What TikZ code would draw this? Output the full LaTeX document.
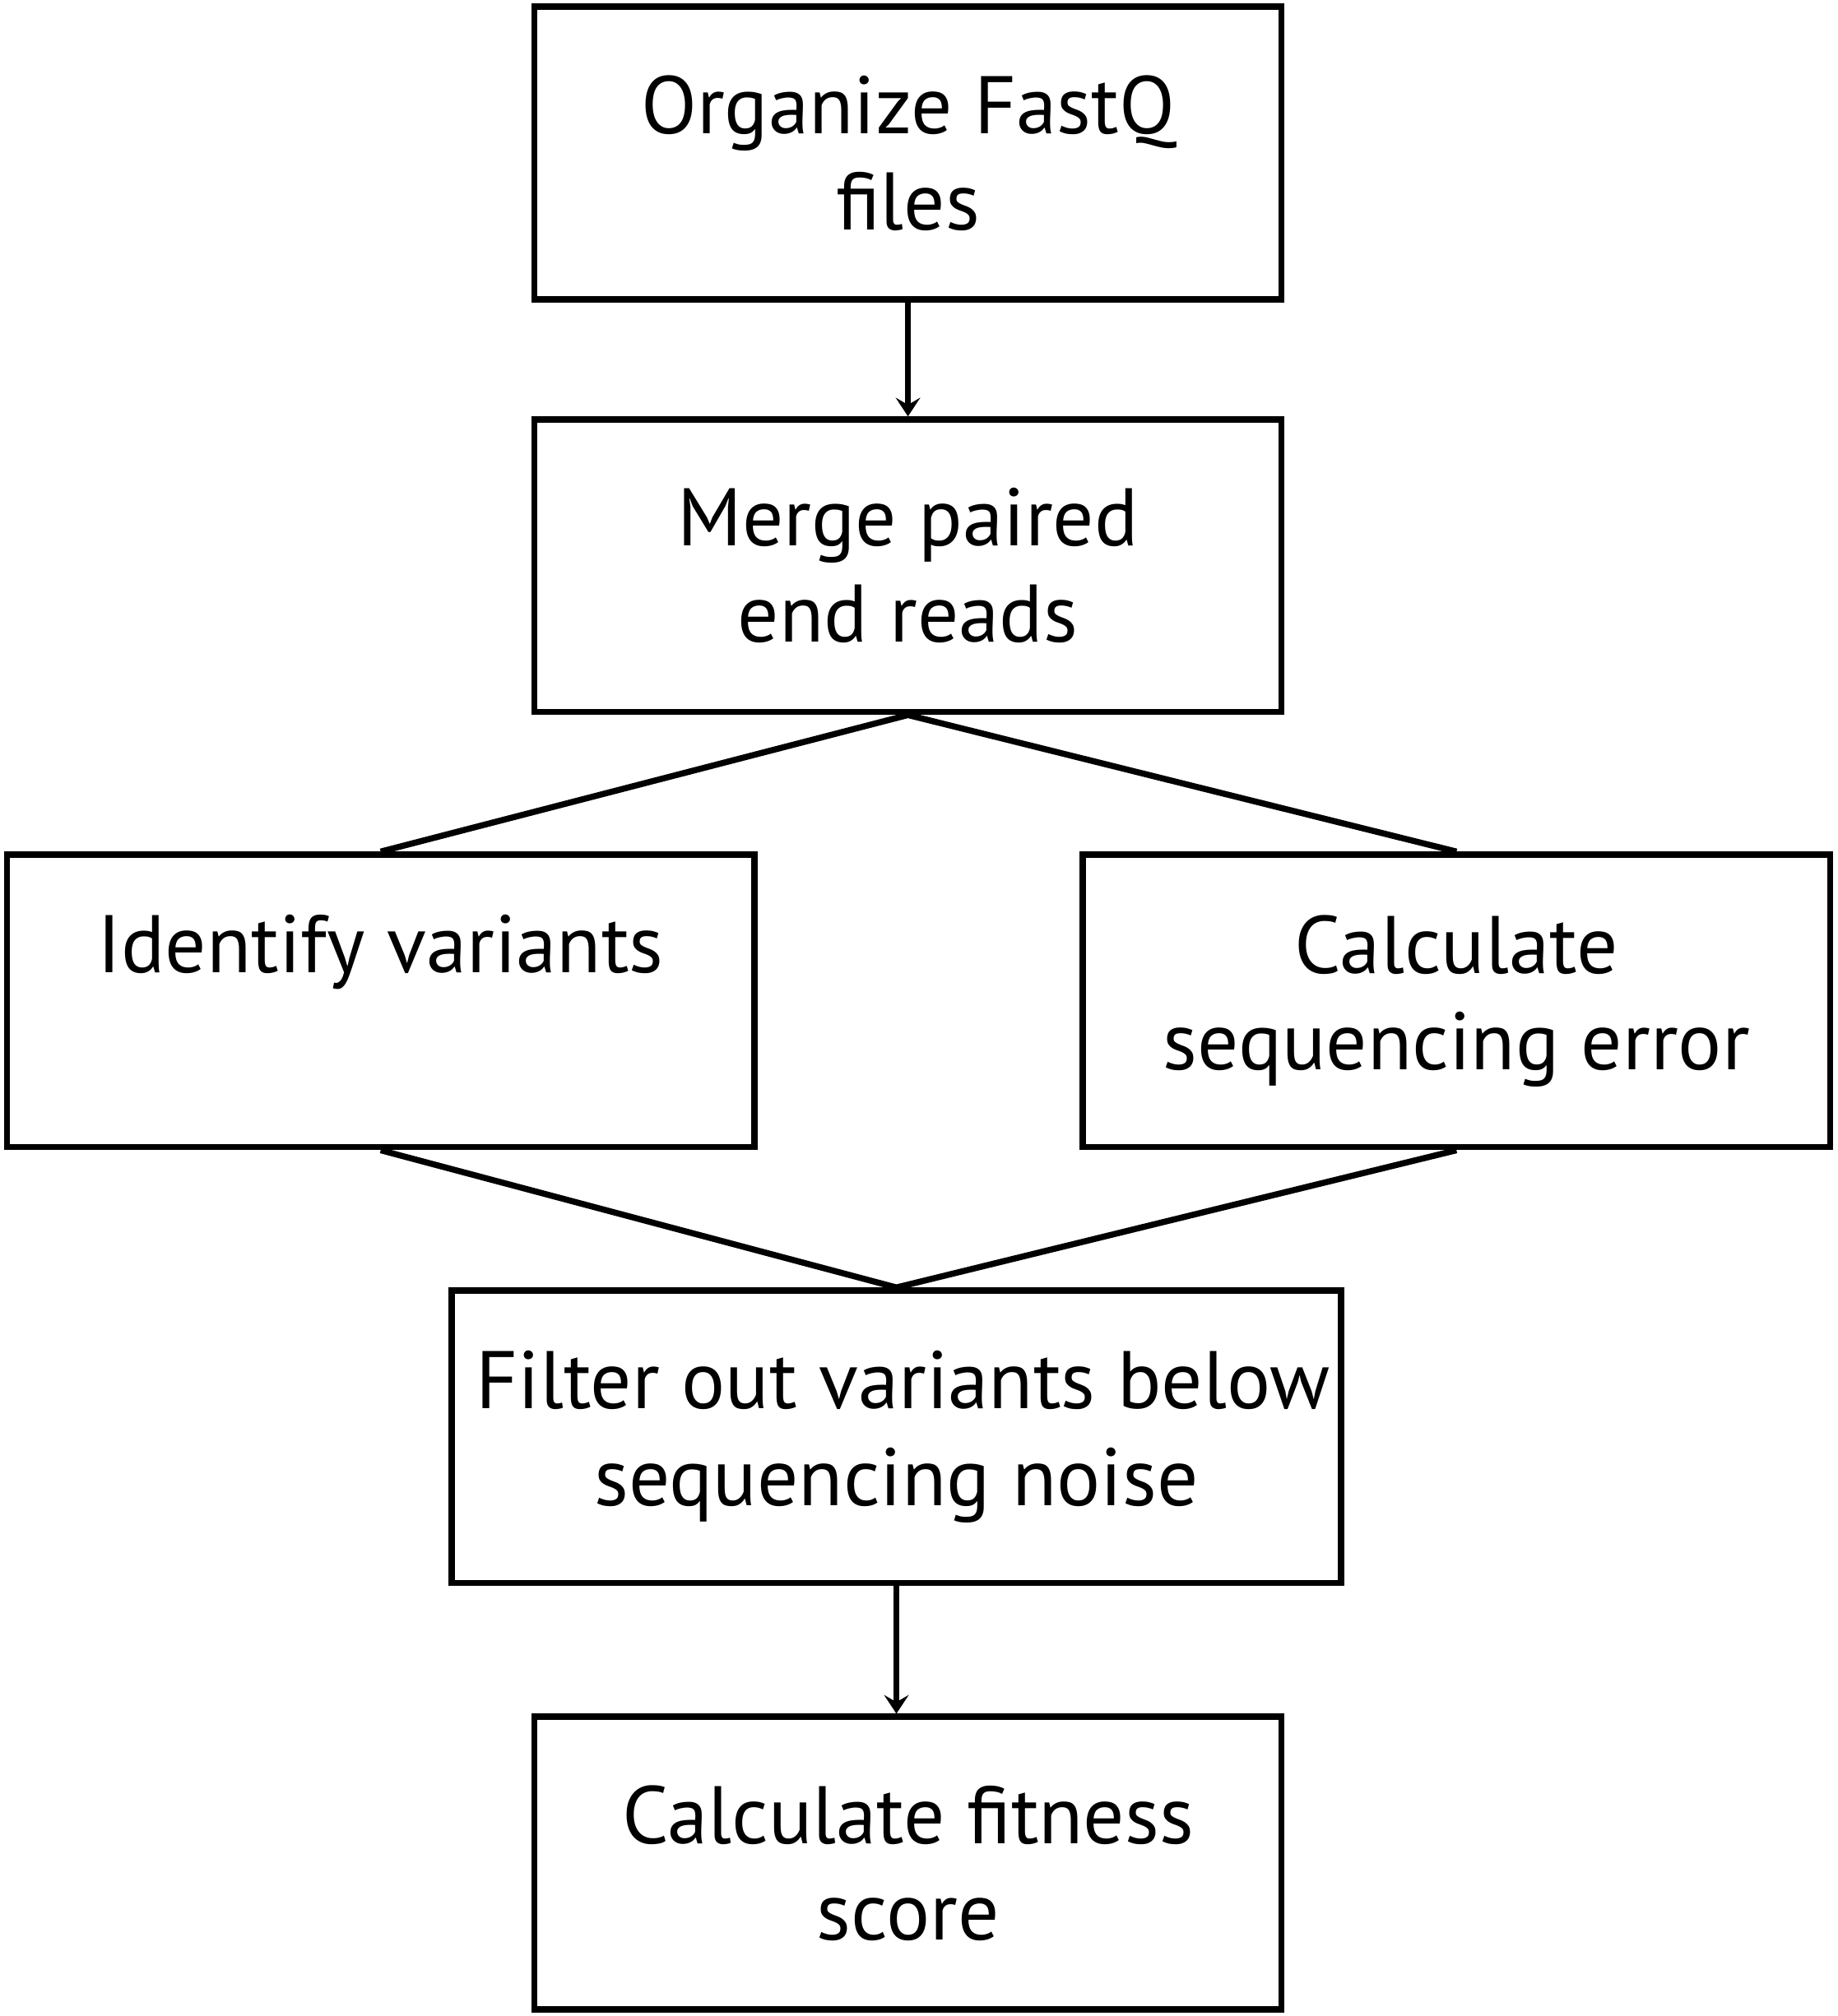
\documentclass[tikz,border=0pt]{standalone}
\usepackage{fontspec}
\setmainfont{PT Sans}
\usetikzlibrary{arrows.meta,positioning}

\begin{document}
\begin{tikzpicture}[x=0.2pt, y=-0.2pt, line join=miter]
    \useasboundingbox (0,0) rectangle (1429,1568);

    \tikzset{
        stepbox/.style={draw, line width=0.95pt, minimum width=#1, minimum height=45.5pt,
            align=center, inner sep=0pt, font=\fontsize{12.7}{15}\selectfont},
        stepbox/.default=116.2pt,
        arr/.style={-{Stealth[length=2.9pt, width=3.8pt, inset=1.1pt]}, line width=0.95pt},
        link/.style={line width=0.95pt}
    }

    \node[stepbox] (organize) at (706,119)    {Organize FastQ\\files};
    \node[stepbox] (merge)    at (706,440)    {Merge paired\\end reads};
    \node[stepbox] (identify) at (296,778.5)  {Identify variants\\\phantom{Xg}};
    \node[stepbox] (seqerror) at (1132.5,778.5) {Calculate\\sequencing error};
    \node[stepbox=138.3pt] (filter) at (697,1117.5) {\hspace*{2pt}Filter out variants below\\sequencing noise};
    \node[stepbox] (fitness)  at (706,1449)   {Calculate fitness\\score};

    \draw[arr] (organize.south) -- (merge.north);

    \draw[link] (identify.north) -- (merge.south) -- (seqerror.north);
    \draw[link] (identify.south) -- (filter.north) -- (seqerror.south);

    \draw[arr] (filter.south) -- (filter.south |- fitness.north);
\end{tikzpicture}
\end{document}
